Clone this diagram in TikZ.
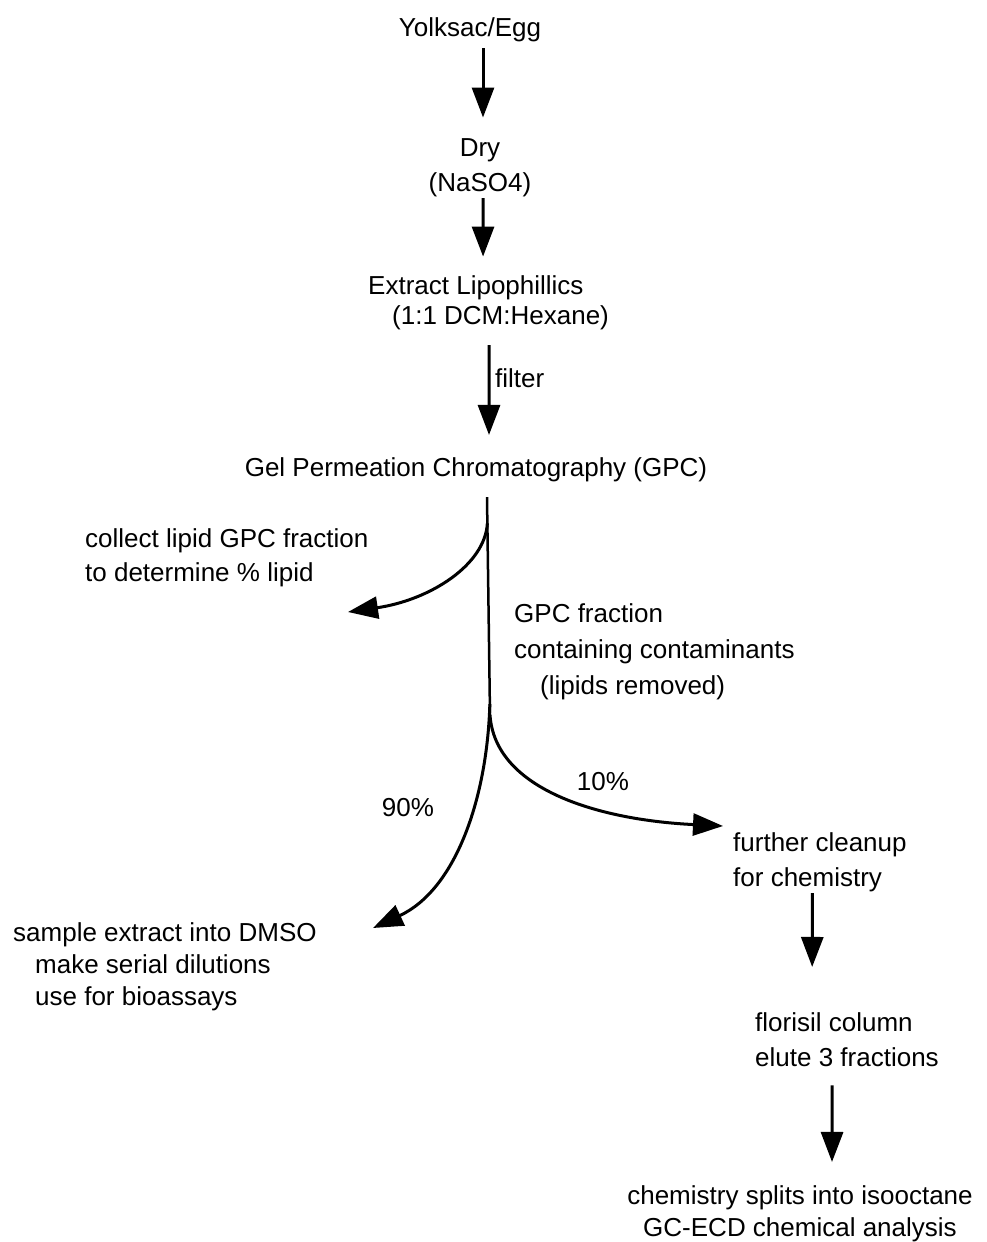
\documentclass[tikz,border=0pt]{standalone}
\usepackage{fontspec}
\setmainfont{Liberation Sans}
\usetikzlibrary{arrows.meta,calc}
\begin{document}
\begin{tikzpicture}[x=1pt,y=-1pt,
  txt/.style={inner sep=0pt, font=\fontsize{26}{34}\selectfont, align=left},
  ctxt/.style={txt, align=center},
  arr/.style={line width=3pt, -{Triangle[length=30pt,width=22pt]}},
  ln/.style={line width=2.5pt}]
\useasboundingbox[fill=white] (0,0) rectangle (986,1242);

% nodes (base anchor = baseline of last line)
\node[ctxt, anchor=base] (yolk) at (470,36) {Yolksac/Egg};
\node[ctxt, anchor=base, font=\fontsize{26}{35}\selectfont] (dry) at (480,191) {Dry\\(NaSO4)};
\node[txt, anchor=base west, font=\fontsize{26}{30}\selectfont] (extract) at (368,324) {Extract Lipophillics\\\hspace*{24pt}(1:1 DCM:Hexane)};
\node[txt, anchor=base west] (filter) at (495,387) {filter};
\node[ctxt, anchor=base] (gpc) at (476,476) {Gel Permeation Chromatography (GPC)};
\node[txt, anchor=base west, font=\fontsize{26}{34}\selectfont] (lipid) at (85,581) {collect lipid GPC fraction\\to determine \% lipid};
\node[txt, anchor=base west, font=\fontsize{26}{36}\selectfont] (contam) at (514,694) {GPC fraction\\containing contaminants\\\hspace*{26pt}(lipids removed)};
\node[ctxt, anchor=base] (p90) at (408,816) {90\%};
\node[ctxt, anchor=base] (p10) at (603,790) {10\%};
\node[txt, anchor=base west, font=\fontsize{26}{35}\selectfont] (cleanup) at (733,886) {further cleanup\\for chemistry};
\node[txt, anchor=base west, font=\fontsize{26}{32}\selectfont] (dmso) at (13,1005) {sample extract into DMSO\\\hspace*{22pt}make serial dilutions\\\hspace*{22pt}use for bioassays};
\node[txt, anchor=base west, font=\fontsize{26}{35}\selectfont] (florisil) at (755,1066) {florisil column\\elute 3 fractions};
\node[ctxt, anchor=base, font=\fontsize{26}{32}\selectfont] (chem) at (800,1236) {chemistry splits into isooctane\\GC-ECD chemical analysis};

% straight arrows
\draw[arr] ([xshift=13pt,yshift=-6.5pt]yolk.south) -- ([xshift=3pt,yshift=20.4pt]dry.north);
\draw[arr] ([xshift=3pt,yshift=-1.5pt]dry.south) -- ([xshift=-5.5pt,yshift=18.4pt]extract.north);
\draw[arr] ([xshift=0.5pt,yshift=-15.5pt]extract.south) -- ([xshift=13pt,yshift=22pt]gpc.north);
\draw[arr] ([xshift=-7.5pt,yshift=-1.5pt]cleanup.south) -- ([xshift=-34.8pt,yshift=45pt]florisil.north);
\draw[arr] ([xshift=-14.8pt,yshift=-19pt]florisil.south) -- ([xshift=32pt,yshift=23pt]chem.north);

% split
\coordinate (top) at ([xshift=11pt,yshift=-15.5pt]gpc.south);
\coordinate (split) at (490,715);
\coordinate (lipend) at (348,612);
\coordinate (dmsoend) at (373,928);
\coordinate (cleanend) at (723,826);
\draw[ln] (top) -- (split);
\draw[arr] ($(top)!0.12!(split)$) .. controls (485,565) and (430,600) .. (lipend);
\draw[arr] ($(top)!0.95!(split)$) .. controls (487,800) and (455,890) .. (dmsoend);
\draw[arr] (split) .. controls (495,790) and (600,820) .. (cleanend);
\end{tikzpicture}
\end{document}
